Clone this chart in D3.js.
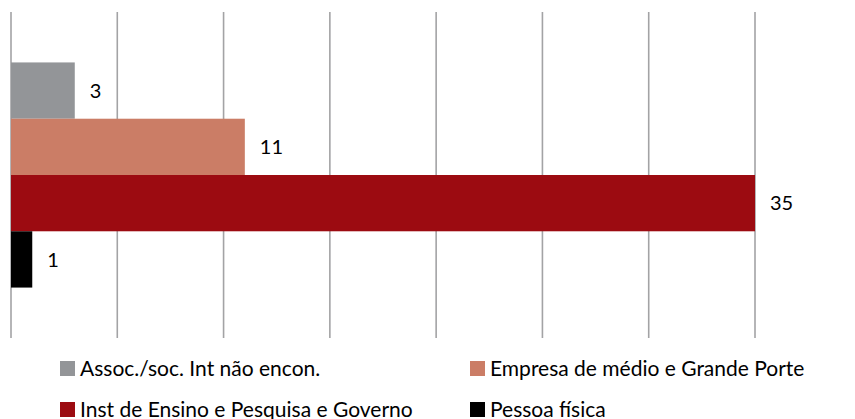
<!DOCTYPE html>
<html>
<head>
<meta charset="utf-8">
<script src="https://cdn.jsdelivr.net/npm/d3@7.9.0/dist/d3.min.js"></script>
<style>
  body { margin: 0; background: #fff; }
  svg { display: block; font-family: Lato, 'Open Sans', sans-serif; }
</style>
</head>
<body>
<div id="chart"></div>
<script>
const categories = [''];
const seriesNames = [
  'Assoc./soc. Int não encon.',
  'Empresa de médio e Grande Porte',
  'Inst de Ensino e Pesquisa e Governo',
  'Pessoa física',
];
const seriesValues = [3, 11, 35, 1];
const seriesColors = ['#939598', '#cb7d66', '#9c0b11', '#000000'];
const xTicks = [0, 5, 10, 15, 20, 25, 30, 35];

const width = 855;
const height = 419;
const area = { left: 11, right: 755, top: 12, bottom: 338 };

const svg = d3.select('#chart').append('svg')
  .attr('width', width)
  .attr('height', height);

const x = d3.scaleLinear().domain([0, 35]).range([area.left, area.right]);
const y0 = d3.scaleBand().domain(categories).range([area.top, area.bottom]).padding(0.183);
const y1 = d3.scaleBand().domain(seriesNames).range([0, y0.bandwidth()]);

// vertical gridlines
svg.append('g')
  .attr('class', 'gridlines')
  .selectAll('line')
  .data(xTicks)
  .join('line')
  .attr('x1', (d) => x(d))
  .attr('x2', (d) => x(d))
  .attr('y1', area.top)
  .attr('y2', area.bottom)
  .attr('stroke', '#a3a3a5')
  .attr('stroke-width', 1.6);

const rows = seriesNames.map((name, i) => ({
  name, value: seriesValues[i], color: seriesColors[i],
}));

const group = svg.append('g')
  .attr('transform', `translate(0, ${y0(categories[0])})`);

group.selectAll('rect')
  .data(rows)
  .join('rect')
  .attr('x', x(0))
  .attr('y', (d) => y1(d.name))
  .attr('width', (d) => x(d.value) - x(0))
  .attr('height', y1.bandwidth())
  .attr('fill', (d) => d.color);

group.selectAll('text')
  .data(rows)
  .join('text')
  .attr('x', (d) => x(d.value) + 15)
  .attr('y', (d) => y1(d.name) + y1.bandwidth() / 2)
  .attr('dy', '0.36em')
  .attr('font-size', 20)
  .attr('fill', '#000')
  .text((d) => d.value);

// legend, two columns
const legendPos = [[60, 361], [470, 361], [60, 402], [470, 402]];
const legend = svg.append('g').attr('class', 'legend');
const items = legend.selectAll('g')
  .data(rows)
  .join('g')
  .attr('transform', (d, i) => `translate(${legendPos[i][0]}, ${legendPos[i][1]})`);

items.append('rect')
  .attr('width', 15)
  .attr('height', 15)
  .attr('fill', (d) => d.color);

items.append('text')
  .attr('x', 20)
  .attr('y', 15)
  .attr('font-size', 21)
  .attr('fill', '#000')
  .text((d) => d.name);
</script>
</body>
</html>
